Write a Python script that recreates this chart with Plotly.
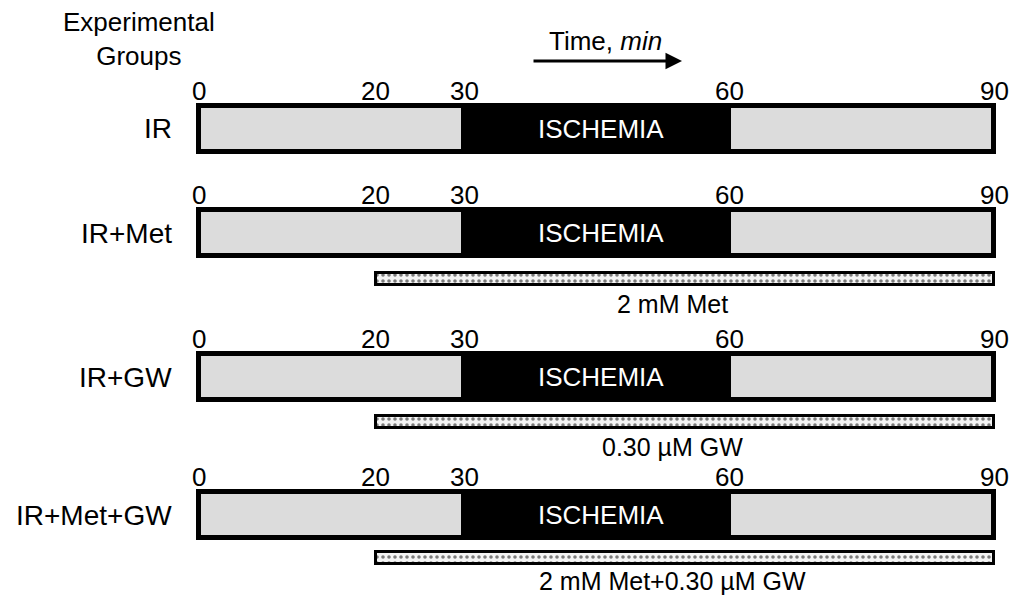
import plotly.graph_objects as go

# ---------------- data ----------------
groups = ["IR", "IR+Met", "IR+GW", "IR+Met+GW"]
protocol_start = [0, 0, 0, 0]
protocol_end = [90, 90, 90, 90]
ischemia_start = [30, 30, 30, 30]
ischemia_end = [60, 60, 60, 60]
ischemia_label = "ISCHEMIA"
tick_values = [0, 20, 30, 60, 90]
treatment_labels = [None, "2 mM Met", "0.30 µM GW", "2 mM Met+0.30 µM GW"]
treatment_start = [None, 20, 20, 20]
treatment_end = [None, 90, 90, 90]

# ---------------- layout ----------------
PAGE_W, PAGE_H = 1017, 607
OFF = 8                      # default body margin of the html page (both sides)
W, H = PAGE_W - 2 * OFF, PAGE_H - 2 * OFF
ZERO_PX, NINETY_PX = 199, 994
px_per_min = (NINETY_PX - ZERO_PX) / 90.0

def px2x(p):
    return (p - ZERO_PX) / px_per_min

row_y = [128.5, 233, 377, 515]        # vertical centre of each protocol bar (page px)
drug_y = [None, 278.5, 421.5, 558]    # vertical centre of each treatment bar
label_dy = [None, 25.5, 25.5, 23]     # treatment label offset below its bar
FONT = "Liberation Sans, Arial, sans-serif"

fig = go.Figure()

fig.add_trace(go.Bar(
    orientation="h", y=row_y, base=protocol_start,
    x=[e - s for s, e in zip(protocol_start, protocol_end)],
    width=46, marker=dict(color="#dcdcdc", line=dict(color="black", width=5)),
    hoverinfo="skip", showlegend=False))

fig.add_trace(go.Bar(
    orientation="h", y=row_y, base=ischemia_start,
    x=[e - s for s, e in zip(ischemia_start, ischemia_end)],
    width=46, marker=dict(color="black", line=dict(color="black", width=5)),
    hoverinfo="skip", showlegend=False))

ty, tb, tx = [], [], []
for i, lab in enumerate(treatment_labels):
    if lab is None:
        continue
    ty.append(drug_y[i]); tb.append(treatment_start[i]); tx.append(treatment_end[i] - treatment_start[i])
fig.add_trace(go.Bar(
    orientation="h", y=ty, base=tb, x=tx, width=12,
    marker=dict(color="white", line=dict(color="black", width=3),
                pattern=dict(shape=".", fgcolor="black", bgcolor="#f4f4f4", size=6, solidity=0.28)),
    hoverinfo="skip", showlegend=False))

ann = []
for i, g in enumerate(groups):
    ann.append(dict(x=px2x(174), y=row_y[i], text=g, showarrow=False, xanchor="right",
                    yanchor="middle", font=dict(family=FONT, size=28, color="black")))
    for t in tick_values:
        ann.append(dict(x=t, y=row_y[i] - 38, text=str(t), showarrow=False, xanchor="center",
                        yanchor="middle", font=dict(family=FONT, size=26, color="black")))
    ann.append(dict(x=(ischemia_start[i] + ischemia_end[i]) / 2 + 0.5, y=row_y[i], text=ischemia_label,
                    showarrow=False, xanchor="center", yanchor="middle",
                    font=dict(family=FONT, size=26, color="white")))
    if treatment_labels[i] is not None:
        ann.append(dict(x=px2x(672), y=drug_y[i] + label_dy[i], text=treatment_labels[i], showarrow=False,
                        xanchor="center", yanchor="middle", borderpad=0,
                        font=dict(family=FONT, size=25, color="black")))

ann.append(dict(x=px2x(138.5), y=39, text="Experimental<br>Groups", showarrow=False,
                xanchor="center", yanchor="middle",
                font=dict(family=FONT, size=26, color="black")))
ann.append(dict(x=px2x(605), y=41, text="Time, <i>min</i>", showarrow=False,
                xanchor="center", yanchor="middle",
                font=dict(family=FONT, size=26, color="black")))
ann.append(dict(x=px2x(682), y=61, ax=px2x(532), ay=61, xref="x", yref="y", axref="x", ayref="y",
                text="", showarrow=True, arrowhead=2, arrowsize=1.1, arrowwidth=3, arrowcolor="black"))

fig.update_layout(
    width=W, height=H, margin=dict(l=0, r=0, t=0, b=0),
    barmode="overlay", bargap=0,
    plot_bgcolor="white", paper_bgcolor="white",
    xaxis=dict(range=[px2x(OFF), px2x(OFF + W)], visible=False, fixedrange=True),
    yaxis=dict(range=[OFF + H, OFF], visible=False, fixedrange=True),
    annotations=ann, showlegend=False,
)

fig.write_html("out.html")
